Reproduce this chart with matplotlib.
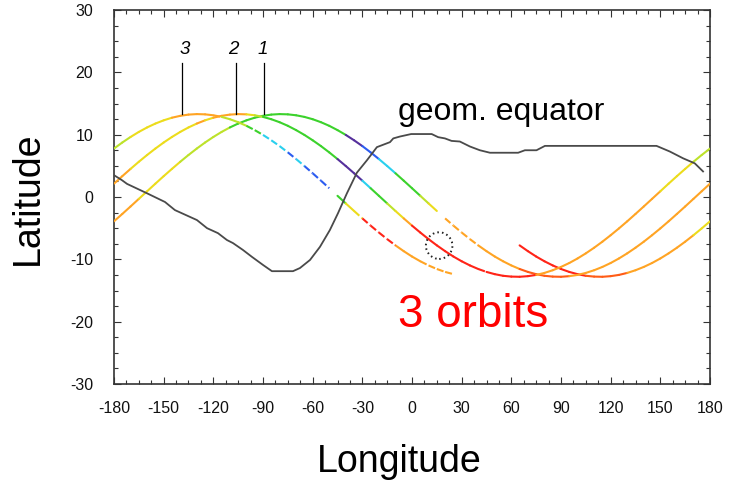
import numpy as np
import matplotlib
matplotlib.use("Agg")
import matplotlib.pyplot as plt
from matplotlib.collections import LineCollection
from matplotlib.patches import Ellipse
from matplotlib.ticker import MultipleLocator

plt.rcParams["font.family"] = ["Liberation Sans", "DejaVu Sans"]
plt.rcParams["axes.unicode_minus"] = False

# Satellite ground track, split where it wraps at the date line.
# Latitudes sampled every 5 degrees of longitude.
track0_lon = np.arange(65, 181, 5)
track0_lat = [-7.76, -8.69, -9.55, -10.31, -10.98, -11.55, -12.02, -12.38, -12.64, -12.77,
              -12.80, -12.70, -12.50, -12.18, -11.75, -11.22, -10.59, -9.86, -9.04, -8.14,
              -7.17, -6.13, -5.04, -3.90]
track0_code = "RRRRRRRREEEEEOOOOOOOOYY"

track1_lon = np.arange(-180, 181, 5)
track1_lat = [-3.90, -2.72, -1.52, -0.30, 0.92, 2.14, 3.34, 4.51, 5.65, 6.74,
              7.77, 8.74, 9.63, 10.44, 11.16, 11.78, 12.30, 12.72, 13.02, 13.22,
              13.30, 13.26, 13.11, 12.85, 12.48, 12.00, 11.42, 10.73, 9.96, 9.10,
              8.17, 7.16, 6.09, 4.97, 3.81, 2.62, 1.41, 0.19, -1.03, -2.24,
              -3.43, -4.59, -5.70, -6.76, -7.76, -8.69, -9.55, -10.31, -10.98, -11.55,
              -12.02, -12.38, -12.64, -12.77, -12.80, -12.70, -12.50, -12.18, -11.75, -11.22,
              -10.59, -9.86, -9.04, -8.14, -7.17, -6.13, -5.04, -3.90, -2.72, -1.52,
              -0.30, 0.92, 2.14]
track1_code = ("OOO" "YYYYY" "LLLLLL" "GGGGGGGGGGGGGG" "PP" "BB" "CC" "GGG" "L" "Y" "."
               "oooo" "OOOOO" "EEEEEE" "OOOOOOOOOOOOOOOOO")

track2_lon = np.arange(-180, 181, 5)
track2_lat = [2.14, 3.34, 4.51, 5.65, 6.74, 7.77, 8.74, 9.63, 10.44, 11.16,
              11.78, 12.30, 12.72, 13.02, 13.22, 13.30, 13.26, 13.11, 12.85, 12.48,
              12.00, 11.42, 10.73, 9.96, 9.10, 8.17, 7.16, 6.09, 4.97, 3.81,
              2.62, 1.41, 0.19, -1.03, -2.24, -3.43, -4.59, -5.70, -6.76, -7.76,
              -8.69, -9.55, -10.31, -10.98, -11.55, -12.02, -12.38, -12.64, -12.77, -12.80,
              -12.70, -12.50, -12.18, -11.75, -11.22, -10.59, -9.86, -9.04, -8.14, -7.17,
              -6.13, -5.04, -3.90, -2.72, -1.52, -0.30, 0.92, 2.14, 3.34, 4.51,
              5.65, 6.74, 7.77]
track2_code = ("OO" "YYYYYYYY" "O" "Y" "OOOO" "Y" "L" "GGGGGGGGG" "PPP" "C" "GG" "L" "Y" "O"
               "RRRRRRRR" "r" "RRRRRR" "OOOOOOOOOOOOOOO" "YYYY" "LL")

track3_lon = np.arange(-180, 26, 5)
track3_lat = [7.77, 8.74, 9.63, 10.44, 11.16, 11.78, 12.30, 12.72, 13.02, 13.22,
              13.30, 13.26, 13.11, 12.85, 12.48, 12.00, 11.42, 10.73, 9.96, 9.10,
              8.17, 7.16, 6.09, 4.97, 3.81, 2.62, 1.41, 0.19, -1.03, -2.24,
              -3.43, -4.59, -5.70, -6.76, -7.76, -8.69, -9.55, -10.31, -10.98, -11.55,
              -12.02, -12.38]
track3_code = ("LL" "YYYYY" "OOOOO" "o" "LLL" "gg" "ccc" "b" "c" "bbb" "." "G" "Y" "y"
               "rrrr" "OOO" "oooo")

# Geomagnetic equator
eq_lon = [-180, -175.2, -172.1, -160.1, -149.2, -143.2, -129.9, -123.8, -117.2, -111.8,
          -108.1, -102.1, -96.7, -90.0, -84.6, -71.9, -67.7, -61.6, -55.6, -49.6,
          -44.7, -39.3, -33.3, -27.2, -21.2, -13.3, -11.3, -7.3, -0.5, 11.9,
          15.8, 19.9, 23.9, 28.9, 35.0, 41.0, 47.1, 64.1, 68.2, 75.2,
          80.3, 147.7, 155.7, 163.8, 170.8, 175.8]
eq_lat = [3.5, 2.7, 2.1, 0.6, -0.8, -2.1, -3.7, -5.0, -5.8, -6.9,
          -7.4, -8.5, -9.6, -10.9, -11.9, -11.9, -11.4, -10.1, -8.0, -5.3,
          -2.6, 0.6, 3.9, 5.9, 8.0, 8.8, 9.4, 9.7, 10.1, 10.1,
          9.6, 9.4, 9.0, 8.9, 8.1, 7.5, 7.1, 7.1, 7.5, 7.5,
          8.2, 8.2, 7.3, 6.2, 5.4, 4.1]

# Orbit number markers
orbit_names = ["3", "2", "1"]
orbit_marker_lon = [-138.9, -106.3, -89.6]
orbit_text_lon = [-137.1, -108.0, -90.4]

x_ticks = [-180, -150, -120, -90, -60, -30, 0, 30, 60, 90, 120, 150, 180]
y_ticks = [-30, -20, -10, 0, 10, 20, 30]

PALETTE = {
    "R": "#ff2418", "E": "#ff5c16", "O": "#ffa424", "Y": "#ecdc1c", "L": "#bde22a",
    "G": "#3cd22c", "C": "#2ad0ee", "B": "#2c5cf0", "P": "#56309c",
}

fig = plt.figure(figsize=(7.29, 4.82), dpi=100)
ax = fig.add_axes([114 / 729, 1 - 384 / 482, 596 / 729, 374 / 482])


def draw_track(lon, lat, code):
    pts = np.column_stack([lon, lat])
    solid, solid_c, dashed, dashed_c = [], [], [], []
    for i, ch in enumerate(code):
        if ch == ".":
            continue
        seg = [pts[i], pts[i + 1]]
        if ch.isupper():
            solid.append(seg)
            solid_c.append(PALETTE[ch])
        else:
            dashed.append(seg)
            dashed_c.append(PALETTE[ch.upper()])
    if solid:
        ax.add_collection(LineCollection(solid, colors=solid_c, linewidths=1.5,
                                         capstyle="round", zorder=3))
    if dashed:
        ax.add_collection(LineCollection(dashed, colors=dashed_c, linewidths=1.5,
                                         linestyles=[(0, (3.4, 1.4))], capstyle="butt",
                                         zorder=3))


draw_track(track0_lon, track0_lat, track0_code)
draw_track(track1_lon, track1_lat, track1_code)
draw_track(track2_lon, track2_lat, track2_code)
draw_track(track3_lon, track3_lat, track3_code)

ax.plot(eq_lon, eq_lat, color="#4a4a4a", lw=1.3, zorder=4)

# Dotted ring around the highlighted crossing
ax.add_patch(Ellipse((16.4, -7.8), 16.0, 4.27, fill=False, edgecolor="#222222",
                     lw=1.4, linestyle=(0, (0.8, 1.6)), zorder=5))

for name, mlon, tlon in zip(orbit_names, orbit_marker_lon, orbit_text_lon):
    ax.plot([mlon, mlon], [21.5, 13.3], color="black", lw=0.9, zorder=5)
    ax.text(tlon, 22.9, name, fontsize=13.5, style="italic", ha="center",
            va="baseline", color="black")

ax.text(-8.5, 12.4, "geom. equator", fontsize=23, ha="left", va="baseline",
        color="black")
ax.text(-8.5, -20.8, "3 orbits", fontsize=33, ha="left", va="baseline",
        color="#ff0000")

ax.set_xlim(-180, 180)
ax.set_ylim(-30, 30)
ax.set_xticks(x_ticks)
ax.set_yticks(y_ticks)
ax.xaxis.set_minor_locator(MultipleLocator(7.5))
ax.yaxis.set_minor_locator(MultipleLocator(2.5))
ax.tick_params(which="both", direction="in", top=True, right=True,
               colors="#333333", labelcolor="#111111", labelsize=11.5)
ax.tick_params(which="major", length=5, width=0.8)
ax.tick_params(which="minor", length=3, width=0.8)
ax.tick_params(axis="y", pad=15)
ax.tick_params(axis="x", pad=12.5)
for sp in ax.spines.values():
    sp.set_color("#333333")
    sp.set_linewidth(1.2)

fig.text(28 / 729, 1 - 198 / 482, "Latitude", rotation=90, ha="center", va="center",
         fontsize=27)
fig.text(399 / 729, 1 - 472 / 482, "Longitude", ha="center", va="baseline",
         fontsize=27)

fig.savefig("out.png", dpi=100)
